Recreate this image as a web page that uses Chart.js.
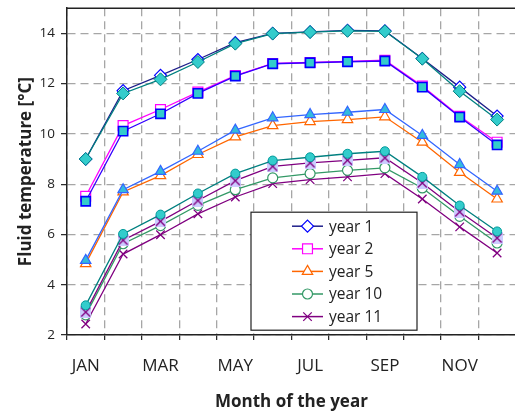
<!DOCTYPE html>
<html>
<head>
<meta charset="utf-8">
<script src="https://cdn.jsdelivr.net/npm/chart.js@4.4.1/dist/chart.umd.min.js"></script>
<style>
  html, body { margin: 0; padding: 0; background: #fff; overflow: hidden; }
  canvas { display: block; }
</style>
</head>
<body>
<canvas id="tempChart" width="524" height="412"></canvas>
<script>
// mois et valeurs
const months = ["JAN", "FEB", "MAR", "APR", "MAY", "JUN", "JUL", "AUG", "SEP", "OCT", "NOV", "DEC"];

const year1  = [9.0, 11.72, 12.33, 12.96, 13.63, 14.0, 14.06, 14.12, 14.1, 13.0, 11.86, 10.71];
const year1b = [9.0, 11.61, 12.17, 12.86, 13.59, 13.99, 14.05, 14.1, 14.08, 12.99, 11.7, 10.57];
const year2  = [7.52, 10.33, 10.97, 11.66, 12.32, 12.8, 12.84, 12.88, 12.93, 11.9, 10.7, 9.67];
const year2b = [7.32, 10.11, 10.8, 11.61, 12.3, 12.79, 12.83, 12.87, 12.9, 11.86, 10.67, 9.56];
const year5  = [4.84, 7.69, 8.34, 9.18, 9.88, 10.33, 10.49, 10.57, 10.68, 9.67, 8.47, 7.41];
const year5b = [4.97, 7.78, 8.51, 9.31, 10.15, 10.64, 10.77, 10.86, 10.97, 9.94, 8.78, 7.72];
const year10  = [2.8, 5.63, 6.35, 7.16, 7.78, 8.25, 8.42, 8.55, 8.65, 7.85, 6.72, 5.66];
const year10b = [3.18, 6.02, 6.79, 7.63, 8.42, 8.94, 9.07, 9.21, 9.31, 8.29, 7.15, 6.12];
const year11  = [2.44, 5.22, 5.99, 6.82, 7.49, 8.02, 8.18, 8.29, 8.42, 7.41, 6.3, 5.26];
const year11b = [2.91, 5.77, 6.52, 7.35, 8.14, 8.71, 8.85, 8.95, 9.05, 8.05, 6.9, 5.86];

const textColor = "#222";

// marqueur carré lavande avec une croix
function lavenderCross() {
  const c = document.createElement("canvas");
  c.width = 11; c.height = 12;
  const g = c.getContext("2d");
  g.fillStyle = "#CCCCFF";
  g.fillRect(0, 0, 11, 12);
  g.strokeStyle = "#800080";
  g.lineWidth = 1.4;
  g.beginPath();
  g.moveTo(1, 1.5); g.lineTo(10, 10.5);
  g.moveTo(10, 1.5); g.lineTo(1, 10.5);
  g.stroke();
  return c;
}

function series(label, data, line, style, radius, fill, border, bw, inLegend) {
  return {
    label: label,
    data: data,
    borderColor: line,
    borderWidth: 1.3,
    pointStyle: style,
    pointRadius: radius,
    pointHoverRadius: radius,
    pointBackgroundColor: fill,
    pointBorderColor: border,
    pointBorderWidth: bw,
    tension: 0,
    fill: false,
    inLegend: inLegend,
    order: inLegend ? 1 : 0,
  };
}

const datasets = [
  series("year 1", year1, "#1F1F8A", "rectRot", 6, "#fff", "#0000FF", 1.2, true),
  series("year 2", year2, "#FF00FF", "rect", 7, "#fff", "#FF00FF", 1.2, true),
  series("year 5", year5, "#FF6600", "triangle", 6, "#fff", "#FF6600", 1.2, true),
  series("year 10", year10, "#339966", "circle", 5, "#fff", "#339966", 1.2, true),
  series("year 11", year11, "#800080", "crossRot", 6, "#fff", "#800080", 1.3, true),
  series("year 1 b", year1b, "#008080", "rectRot", 6.5, "#33CCCC", "#008080", 1, false),
  series("year 2 b", year2b, "#3300FF", "rect", 6.5, "#33CCCC", "#0000FF", 1.6, false),
  series("year 5 b", year5b, "#3366FF", "triangle", 6, "#33BBDD", "#3366FF", 1.2, false),
  series("year 10 b", year10b, "#008080", "circle", 4.5, "#33CCCC", "#009999", 1, false),
  series("year 11 b", year11b, "#800080", lavenderCross(), 6, "#CCCCFF", "#800080", 1, false),
];

// légende encadrée dans la zone du graphique
const boxLegend = {
  id: "boxLegend",
  afterDraw(chart) {
    const { ctx, chartArea: a } = chart;
    const x0 = a.left + 184, y0 = a.top + 204, w = 166, h = 118;
    ctx.save();
    ctx.fillStyle = "#fff";
    ctx.fillRect(x0, y0, w, h);
    ctx.strokeStyle = textColor;
    ctx.lineWidth = 1.2;
    ctx.strokeRect(x0, y0, w, h);
    const items = chart.data.datasets.filter((d) => d.inLegend);
    items.forEach((d, i) => {
      const y = y0 + 14 + i * 22.6;
      ctx.strokeStyle = d.borderColor;
      ctx.lineWidth = 1.5;
      ctx.beginPath();
      ctx.moveTo(x0 + 41, y);
      ctx.lineTo(x0 + 72, y);
      ctx.stroke();
      ctx.fillStyle = "#fff";
      ctx.strokeStyle = d.pointBorderColor;
      ctx.lineWidth = d.pointBorderWidth;
      Chart.helpers.drawPoint(ctx, {
        pointStyle: d.pointStyle, radius: d.pointRadius, rotation: 0, borderWidth: d.pointBorderWidth,
      }, x0 + 56.5, y);
      ctx.fillStyle = textColor;
      ctx.font = '15.5px "Open Sans"';
      ctx.textBaseline = "middle";
      ctx.textAlign = "left";
      ctx.fillText(d.label, x0 + 78, y + 1);
    });
    ctx.restore();
  },
};

// ligne du haut du cadre
const topBorder = {
  id: "topBorder",
  beforeDatasetsDraw(chart) {
    const { ctx, chartArea: a } = chart;
    ctx.save();
    ctx.strokeStyle = textColor;
    ctx.lineWidth = 1.5;
    ctx.beginPath();
    ctx.moveTo(a.left, a.top);
    ctx.lineTo(a.right, a.top);
    ctx.lineTo(a.right, a.bottom);
    ctx.stroke();
    ctx.restore();
  },
};

new Chart(document.getElementById("tempChart").getContext("2d"), {
  type: "line",
  data: { labels: months, datasets: datasets },
  options: {
    responsive: false,
    animation: false,
    devicePixelRatio: 1,
    layout: { padding: { top: 8, right: 1, left: 0, bottom: 0 } },
    plugins: { legend: { display: false }, tooltip: { enabled: false } },
    scales: {
      x: {
        type: "category",
        offset: true,
        afterFit: (s) => { s.height = 77; s.paddingLeft = 0; s.paddingRight = 0; },
        grid: { offset: true, color: "#A6A6A6", lineWidth: 1.3, tickColor: textColor, tickWidth: 1.2, tickLength: 5 },
        border: { display: true, color: textColor, width: 1.5, dash: [8, 5] },
        ticks: {
          autoSkip: false,
          maxRotation: 0,
          padding: 16,
          color: textColor,
          font: { family: "Open Sans", size: 17 },
          callback: (v, i) => (i % 2 === 0 ? months[i] : ""),
        },
        title: {
          display: true,
          text: "Month of the year",
          color: textColor,
          font: { family: "Open Sans", size: 17, weight: "bold" },
          padding: { top: 0, bottom: 0 },
        },
      },
      y: {
        min: 2,
        max: 15,
        afterFit: (s) => { s.width = 67; s.paddingTop = 0; s.paddingBottom = 0; },
        afterBuildTicks: (s) => { s.ticks = s.ticks.filter((t) => t.value % 2 === 0); },
        grid: { color: "#A6A6A6", lineWidth: 1.3, tickColor: textColor, tickWidth: 1.2, tickLength: 6 },
        border: { display: true, color: textColor, width: 1.5, dash: [8, 5] },
        ticks: {
          stepSize: 2,
          padding: 6,
          color: textColor,
          font: { family: "Open Sans", size: 13.5 },
        },
        title: {
          display: true,
          text: "Fluid temperature [°C]",
          color: textColor,
          font: { family: "Open Sans", size: 17, weight: "bold" },
          padding: { top: 16, bottom: 0 },
        },
      },
    },
  },
  plugins: [topBorder, boxLegend],
});
</script>
</body>
</html>
